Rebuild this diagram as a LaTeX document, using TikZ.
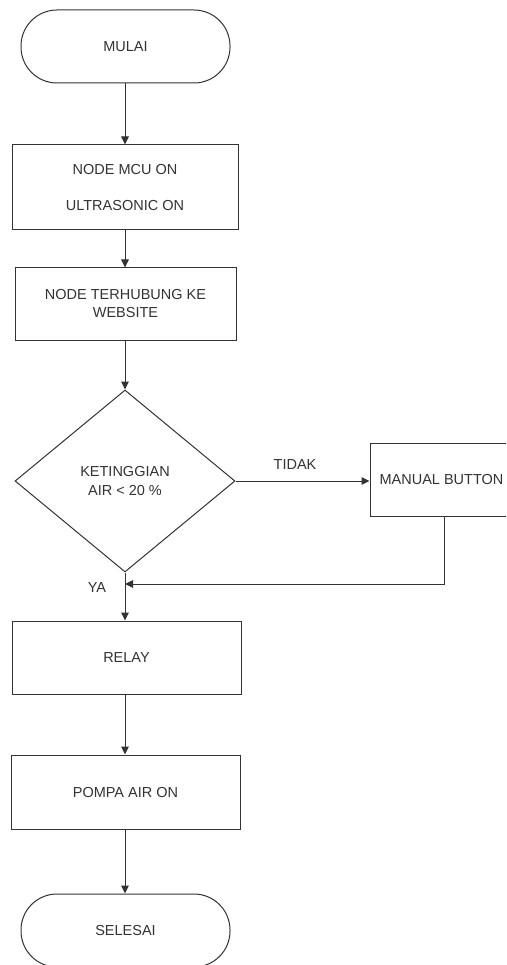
\documentclass[tikz,border=0pt]{standalone}
\usepackage{fontspec}
\setmainfont{Liberation Sans}
\usetikzlibrary{shapes.geometric,arrows.meta}
\definecolor{linegray}{HTML}{333333}
\definecolor{textgray}{HTML}{333333}
\begin{document}
\begin{tikzpicture}[x=1pt,y=-1pt,
  every node/.style={font=\fontsize{14.5}{17}\selectfont, text=textgray, inner sep=0pt},
  shapeline/.style={draw=linegray, line width=1pt},
  terminal/.style={shapeline, rectangle, rounded corners=36pt, minimum width=209pt, minimum height=73pt},
  process/.style={shapeline, rectangle, minimum height=73pt, align=center},
  decision/.style={shapeline, diamond, aspect=1.2, minimum width=220pt, minimum height=182pt, align=center},
  flow/.style={draw=linegray, line width=1pt, -{Triangle[length=8pt,width=7.5pt]}},
  plain/.style={draw=linegray, line width=1pt}]
\useasboundingbox (0,0) rectangle (506,965);
\fill[white] (0,0) rectangle (506,965);
\begin{scope}
\clip (0,0) rectangle (506,965);

% main column
\node[terminal] (start) at (125.5,46.5) {MULAI};
\node[process, minimum width=226pt, minimum height=85pt] (mcu) at (125,187.5)
  {NODE MCU ON\\[19pt]ULTRASONIC ON};
\node[process, minimum width=221pt, minimum height=72pt] (web) at (125.5,304)
  {NODE TERHUBUNG KE\\[1pt]WEBSITE};
\node[decision] (level) at (125,481) {KETINGGIAN\\[2pt]AIR < 20 \%};
\node[process, minimum width=143pt] (manual) at (441.5,480) {MANUAL BUTTON};
\node[process, minimum width=229pt] (relay) at (126.5,657.5) {RELAY};
\node[process, minimum width=229pt, minimum height=74pt] (pump) at (125.5,792) {POMPA AIR ON};
\node[terminal] (stop) at (125.5,930.5) {SELESAI};

% branch labels
\node (no) at (295,465) {TIDAK};
\node (yes) at (97,588) {YA};

% merge point of the manual branch
\coordinate (merge) at (125,584);

% connectors
\draw[flow] (start.south -| 125,0) -- (mcu.north -| 125,0);
\draw[flow] (mcu.south -| 125,0) -- (web.north -| 125,0);
\draw[flow] (web.south -| 125,0) -- (level.north);
\draw[flow] (level.east) -- (level.east -| manual.west);
\draw[plain] (level.south) -- (merge);
\draw[flow] (merge) -- (relay.north -| merge);
\draw[flow] (manual.south -| 444,0) |- (merge);
\draw[flow] (relay.south -| 125,0) -- (pump.north -| 125,0);
\draw[flow] (pump.south -| 125,0) -- (stop.north -| 125,0);
\end{scope}
\end{tikzpicture}
\end{document}
